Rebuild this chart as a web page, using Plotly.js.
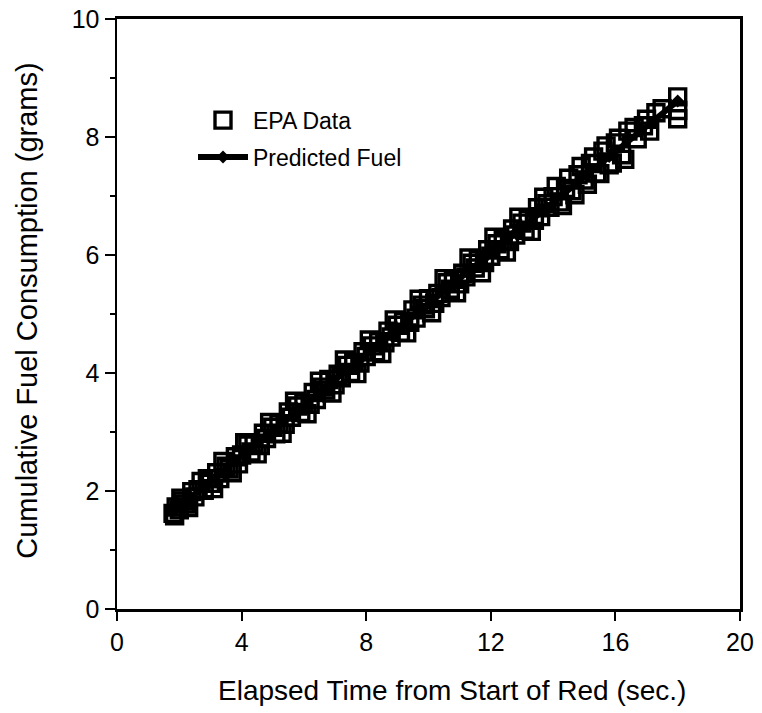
<!DOCTYPE html>
<html>
<head>
<meta charset="utf-8">
<script src="https://cdn.plot.ly/plotly-3.0.1.min.js"></script>
<style>
html,body{margin:0;padding:0;background:#fff;}
#chart{width:762px;height:713px;}
</style>
</head>
<body>
<div id="chart"></div>
<script>
// EPA measured cumulative fuel (grams) vs elapsed time (s)
const epaTime = [1.8,1.9,2.0,2.1,2.2,2.4,2.5,2.6,2.8,2.9,3.0,3.2,3.3,3.5,3.6,3.8,3.9,4.0,4.2,4.3,4.4,4.6,4.7,4.8,5.0,5.1,5.2,5.4,5.5,5.6,5.8,5.9,6.0,6.2,6.3,6.4,6.6,6.7,6.8,7.0,7.1,7.2,7.4,7.5,7.6,7.8,7.9,8.0,8.2,8.3,8.4,8.6,8.7,8.8,9.0,9.1,9.2,9.4,9.5,9.6,9.8,9.9,10.0,10.2,10.3,10.4,10.6,10.7,10.8,11.0,11.1,11.2,11.4,11.5,11.6,11.8,11.9,12.0,12.2,12.3,12.4,12.6,12.7,12.8,13.0,13.1,13.2,13.4,13.5,13.6,13.8,13.9,14.0,14.2,14.4,14.6,14.8,15.0,15.2,15.4,15.6,15.8,16.0,16.2,16.4,16.7,16.9,17.3,18.0,18.0,
  1.85,2.05,2.3,2.7,3.1,3.4,3.7,4.1,4.5,4.9,5.3,5.7,6.1,6.5,6.9,7.3,7.7,8.1,8.5,8.9,9.3,9.7,10.1,10.5,10.9,11.3,11.7,12.1,12.5,12.9,13.3,13.7,14.1,14.3,14.5,14.7,14.9,15.1,15.3,15.5,15.7,15.9,16.1,16.3,16.6,17.0,17.1,17.5,18.0];
const epaFuel = [1.62,1.73,1.68,1.83,1.78,1.99,1.90,2.02,2.01,2.21,2.13,2.31,2.21,2.42,2.37,2.58,2.46,2.61,2.78,2.66,2.81,2.77,2.98,2.89,3.08,2.97,3.14,3.13,3.34,3.25,3.44,3.33,3.49,3.47,3.67,3.55,3.76,3.71,3.89,3.80,3.98,3.92,4.13,4.01,4.18,4.17,4.36,4.28,4.46,4.36,4.53,4.51,4.71,4.61,4.81,4.69,4.87,4.86,5.07,4.93,5.15,5.09,5.26,5.18,5.35,5.28,5.53,5.42,5.59,5.51,5.69,5.63,5.86,5.78,5.92,5.87,6.09,5.98,6.19,6.09,6.25,6.23,6.44,6.34,6.54,6.42,6.60,6.59,6.80,6.65,6.87,6.81,6.99,6.90,7.13,7.09,7.36,7.27,7.55,7.39,7.76,7.53,7.90,7.70,8.10,7.97,8.19,8.41,8.68,8.31,
  1.58,1.88,1.72,2.16,2.04,2.50,2.31,2.82,2.63,3.16,2.98,3.52,3.31,3.86,3.66,4.22,3.99,4.56,4.33,4.90,4.68,5.25,5.02,5.60,5.36,5.95,5.70,6.30,6.05,6.64,6.40,6.98,7.16,6.84,7.30,7.02,7.50,7.20,7.66,7.38,7.85,7.56,7.98,7.62,8.16,8.30,8.10,8.48,8.45];
// Model prediction
const predTime = [1.8,2.8,3.8,4.8,5.8,6.8,7.8,8.8,9.8,10.8,11.8,12.8,13.8,14.8,15.8,16.8,18.0];
const predFuel = [1.65,2.08,2.51,2.93,3.37,3.79,4.23,4.65,5.09,5.52,5.95,6.38,6.81,7.24,7.67,8.10,8.61];
const xTickVals = [0,4,8,12,16,20];
const yTickVals = [0,2,4,6,8,10];
const xTitle = 'Elapsed Time from Start of Red (sec.)';
const yTitle = 'Cumulative Fuel Consumption (grams)';

const FONT = 'Liberation Sans, Arial, Helvetica, sans-serif';

const traces = [
  {
    x: epaTime, y: epaFuel, name: 'EPA Data', type: 'scatter', mode: 'markers',
    legendgroup: 'a',
    marker: {symbol: 'square-open', size: 16, color: '#000', line: {width: 3.4, color: '#000'}}
  },
  {
    x: predTime, y: predFuel, name: 'Predicted Fuel', type: 'scatter', mode: 'lines+markers',
    legendgroup: 'b',
    line: {color: '#000', width: 6},
    marker: {symbol: 'diamond', size: 10, color: '#000'}
  }
];

const layout = {
  width: 762, height: 713,
  margin: {l: 117, r: 22, t: 19, b: 104},
  paper_bgcolor: '#fff', plot_bgcolor: '#fff',
  font: {family: FONT, color: '#000', size: 23},
  showlegend: true,
  legend: {
    x: 0.122, y: 0.865, xanchor: 'left', yanchor: 'top',
    font: {family: FONT, size: 23, color: '#000'},
    bgcolor: 'rgba(0,0,0,0)', itemwidth: 50, traceorder: 'grouped', tracegroupgap: 4
  },
  xaxis: {
    range: [0, 20], tickvals: xTickVals, ticktext: xTickVals.map(String),
    showgrid: false, zeroline: false,
    showline: true, mirror: true, linecolor: '#000', linewidth: 3,
    ticks: 'outside', ticklen: 9, tickwidth: 2, tickcolor: '#000',
    tickfont: {family: FONT, size: 25, color: '#000'}
  },
  yaxis: {
    range: [0, 10], tickvals: yTickVals, ticktext: yTickVals.map(String),
    showgrid: false, zeroline: false,
    showline: true, mirror: true, linecolor: '#000', linewidth: 2.5,
    ticks: 'outside', ticklen: 10, tickwidth: 2, tickcolor: '#000',
    minor: {dtick: 1, ticks: 'outside', ticklen: 5, tickwidth: 2, tickcolor: '#000'},
    tickfont: {family: FONT, size: 25, color: '#000'}
  },
  annotations: [
    {text: xTitle, xref: 'paper', yref: 'paper', x: 0.538, y: -0.138, xanchor: 'center', yanchor: 'middle',
     showarrow: false, font: {family: FONT, size: 28, color: '#000'}},
    {text: yTitle, xref: 'paper', yref: 'paper', x: -0.145, y: 0.505, xanchor: 'center', yanchor: 'middle',
     textangle: -90, showarrow: false, font: {family: FONT, size: 29, color: '#000'}}
  ]
};

Plotly.newPlot('chart', traces, layout, {staticPlot: true, displayModeBar: false});
</script>
</body>
</html>
